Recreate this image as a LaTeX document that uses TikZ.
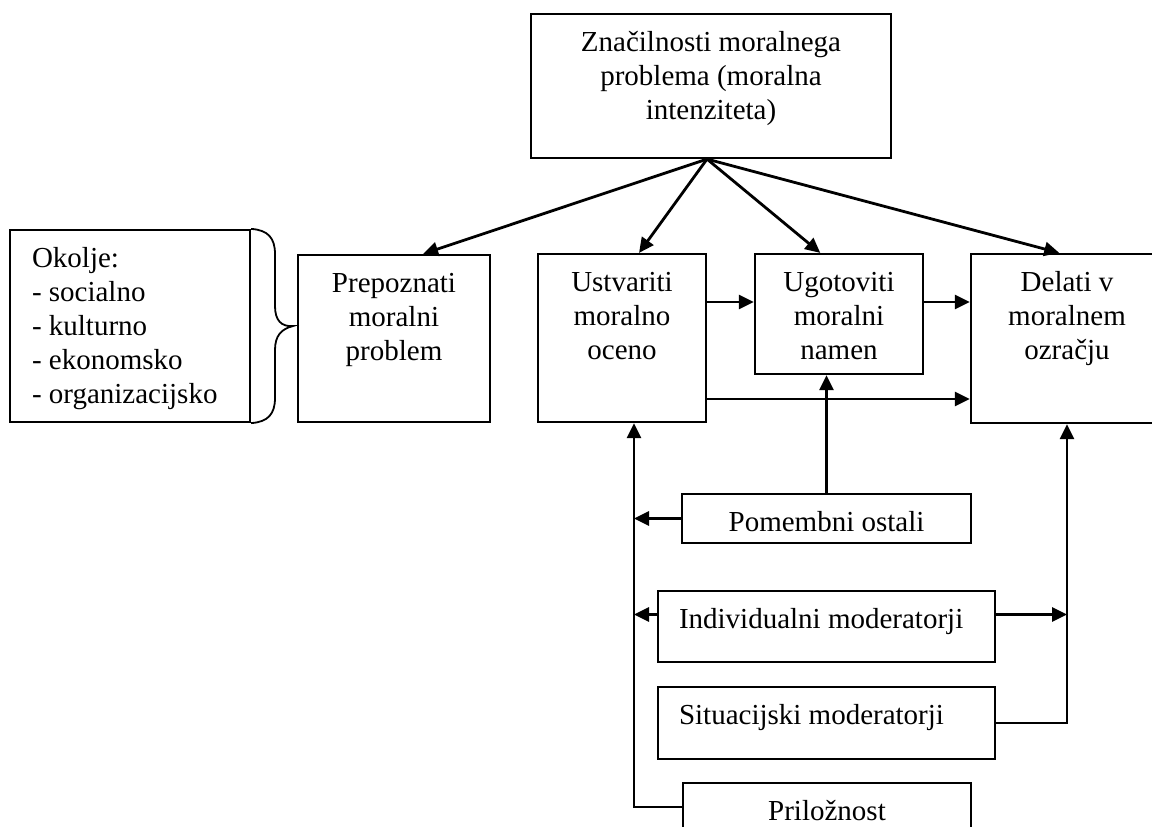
\documentclass[tikz,border=0pt]{standalone}
\usepackage{fontspec}
\setmainfont{Liberation Serif}
\usepackage{tikz}
\usetikzlibrary{arrows.meta,calc}
\newcommand{\ctext}[3]{\parbox[c][#2][t]{#1}{\centering\vspace*{14pt}\strut #3}}
\newcommand{\ltext}[3]{\parbox[c][#2][t]{#1}{\raggedright\leftskip=21pt\relax\vspace*{14pt}\strut #3}}
\tikzset{
  stage/.style={draw, line width=2.2pt, inner sep=0pt},
  arr/.style={-{Triangle[length=15pt,width=14pt]}, line width=2.8pt},
  bracket/.style={line width=1.8pt},
}

\begin{document}
\begin{tikzpicture}[x=1pt, y=-1pt, every node/.append style={font=\fontsize{29}{34}\selectfont}]
  \useasboundingbox (0,0) rectangle (1152,827);
  \clip (0,0) rectangle (1152,827);
  \node[stage] (zn) at (711,86) {\ctext{360pt}{144pt}{Značilnosti moralnega\\ problema (moralna\\ intenziteta)}};
  \node[stage] (ok) at (130,326) {\parbox[c][192pt][t]{240pt}{\raggedright\leftskip=22pt\relax\vspace*{14pt}\strut Okolje:\\ - socialno\\ - kulturno\\ - ekonomsko\\ - organizacijsko}};
  \node[stage] (prep) at (394,338.5) {\ctext{192pt}{167pt}{Prepoznati\\ moralni\\ problem}};
  \node[stage] (ust) at (622,338) {\ctext{168pt}{168pt}{Ustvariti\\ moralno\\ oceno}};
  \node[stage] (ugo) at (839,314) {\ctext{168pt}{120pt}{Ugotoviti\\ moralni\\ namen}};
  \node[stage] (del) at (1067,338.5) {\ctext{192pt}{169pt}{Delati v\\ moralnem\\ ozračju}};
  \node[stage] (pom) at (826.5,518.5) {\ctext{289pt}{49pt}{Pomembni ostali}};
  \node[stage] (ind) at (826.5,626.5) {\ltext{337pt}{71pt}{Individualni moderatorji}};
  \node[stage] (sit) at (826.5,723) {\ltext{337pt}{72pt}{Situacijski moderatorji}};
  \node[stage] (pri) at (827,807) {\ctext{288pt}{48pt}{Priložnost}};
  \coordinate (ltrunk) at ([xshift=12pt]ust.south);
  \coordinate (rtrunk) at (del.south);
  \coordinate (tip) at ([xshift=42pt]ok.east);
  \draw[arr] ([xshift=-4pt]zn.south) -- ($(prep.north west)!0.65!(prep.north east)$);
  \draw[arr] ([xshift=-4pt]zn.south) -- ($(ust.north west)!0.6!(ust.north east)$);
  \draw[arr] ([xshift=-4pt]zn.south) -- ($(ugo.north west)!0.39!(ugo.north east)$);
  \draw[arr] ([xshift=-4pt]zn.south) -- ($(del.north west)!0.46!(del.north east)$);
  \draw[arr] ([yshift=36pt]ust.east) -- ([yshift=36pt]ust.east -| ugo.west);
  \draw[arr] ([yshift=12pt]ugo.east) -- ([yshift=12pt]ugo.east -| del.west);
  \draw[arr] ([yshift=-61pt]ust.east) -- ([yshift=-61pt]ust.east -| del.west);
  \draw[arr] (pom.north) -- (pom.north |- ugo.south);
  \draw[arr] (pri.west) -| (ltrunk);
  \draw[arr] (pom.west) -- (pom.west -| ltrunk);
  \draw[arr] ([yshift=12pt]ind.west) -- ([yshift=12pt]ind.west -| ltrunk);
  \draw[arr] (sit.east) -| (rtrunk);
  \draw[arr] ([yshift=12pt]ind.east) -- ([yshift=12pt]ind.east -| rtrunk);
  \draw[bracket] (ok.north east) .. controls (268,230) and (275,238) .. (275,254) -- (275,306)
    .. controls (275,320) and (281,327) .. (tip) .. controls (281,329) and (275,336) .. (275,350)
    -- (275,398) .. controls (275,414) and (268,422) .. (ok.south east);
\end{tikzpicture}
\end{document}
